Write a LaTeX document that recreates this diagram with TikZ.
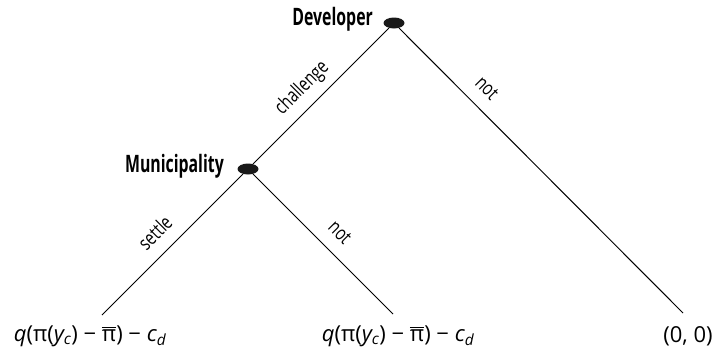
\documentclass[tikz,border=0pt]{standalone}
\usepackage{fontspec}
\usetikzlibrary{shapes.geometric}
\setmainfont{Open Sans}
\newfontfamily\lblfont[FakeStretch=0.75]{Open Sans}
\newfontfamily\plyfont[FakeStretch=0.66]{Open Sans}
\begin{document}
\begin{tikzpicture}[x=1pt,y=-1pt,
  dot/.style={ellipse,fill=black!90,minimum width=21pt,minimum height=11pt,inner sep=0pt},
  edge/.style={line width=1pt,black},
  elbl/.style={font=\lblfont\fontsize{20}{20}\selectfont,sloped,above=8pt,inner sep=0pt,text height=14pt,text depth=5pt},
  player/.style={font=\plyfont\bfseries\fontsize{24}{24}\selectfont,anchor=east,inner sep=0pt},
  payoff/.style={font=\fontsize{22}{22}\selectfont,inner sep=0pt}]
\useasboundingbox (0,0) rectangle (715,354);
\node[dot] (dev) at (394,23) {};
\node[dot] (mun) at (248,169) {};
\coordinate (l) at (102,315);
\coordinate (m) at (393,314);
\coordinate (r) at (683,313);
\node[player] (devl) at (373,19) {Developer};
\node[player] (munl) at (224,166) {Municipality};
\draw[edge] (dev) -- node[elbl,pos=.54] {challenge} (mun);
\draw[edge] (dev) -- node[elbl,pos=.26] {not} (r);
\draw[edge] (mun) -- node[elbl,pos=.52] {settle} (l);
\draw[edge] (mun) -- node[elbl,pos=.52] {not} (m);
\newcommand{\pibar}{\leavevmode\vbox{\hrule height 1.3pt\kern1.6pt\hbox{π}}}
\node[payoff] (p1) at (90,336) {\itshape q\upshape (π(\itshape y\textsubscript{c}\upshape) − \pibar) − \itshape c\textsubscript{d}};
\node[payoff] (p2) at (398,336) {\itshape q\upshape (π(\itshape y\textsubscript{c}\upshape) − \pibar) − \itshape c\textsubscript{d}};
\node[payoff] (p3) at (688,336) {(0, 0)};
\end{tikzpicture}
\end{document}
